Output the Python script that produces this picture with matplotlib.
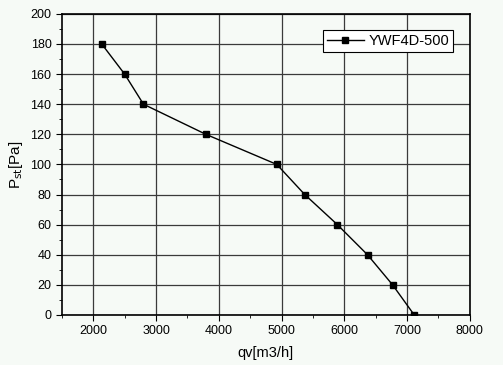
import matplotlib
matplotlib.use("Agg")
import matplotlib.pyplot as plt
from matplotlib.ticker import MultipleLocator

plt.rcParams["font.family"] = ["Liberation Sans", "DejaVu Sans"]

qv = [2135, 2500, 2800, 3795, 4925, 5370, 5890, 6370, 6770, 7115]
pst = [180, 160, 140, 120, 100, 80, 60, 40, 20, 0]
series_name = "YWF4D-500"

bg = "#f6faf6"
fig = plt.figure(figsize=(5.03, 3.65), dpi=100, facecolor=bg)
ax = fig.add_axes([0.123, 0.137, 0.811, 0.825], facecolor=bg)

ax.plot(qv, pst, color="black", lw=1.0, marker="s", ms=5, mfc="black", mec="black",
        label=series_name, zorder=3)

ax.set_xlim(1500, 8000)
ax.set_ylim(0, 200)
ax.xaxis.set_major_locator(MultipleLocator(1000))
ax.xaxis.set_minor_locator(MultipleLocator(500))
ax.yaxis.set_major_locator(MultipleLocator(20))
ax.yaxis.set_minor_locator(MultipleLocator(10))
ax.grid(True, which="major", color="#3a3a3a", lw=0.9)
ax.tick_params(which="both", direction="out", labelsize=9, colors="black")
ax.tick_params(which="major", length=4)
ax.tick_params(which="minor", length=2)
for s in ax.spines.values():
    s.set_linewidth(1.2)

ax.set_xlabel("qv[m3/h]", fontsize=10.5, labelpad=6)
ax.set_ylabel(r"P$_{\mathrm{st}}$[Pa]", fontsize=11, labelpad=4)

leg = ax.legend(loc="upper right", bbox_to_anchor=(0.97, 0.96), fontsize=10.5,
                fancybox=False, framealpha=1, edgecolor="black", facecolor="white",
                handlelength=2.6, handletextpad=0.3, borderpad=0.25, borderaxespad=0.3)
leg.get_frame().set_linewidth(0.8)

fig.savefig("out.png", dpi=100, facecolor=bg)
